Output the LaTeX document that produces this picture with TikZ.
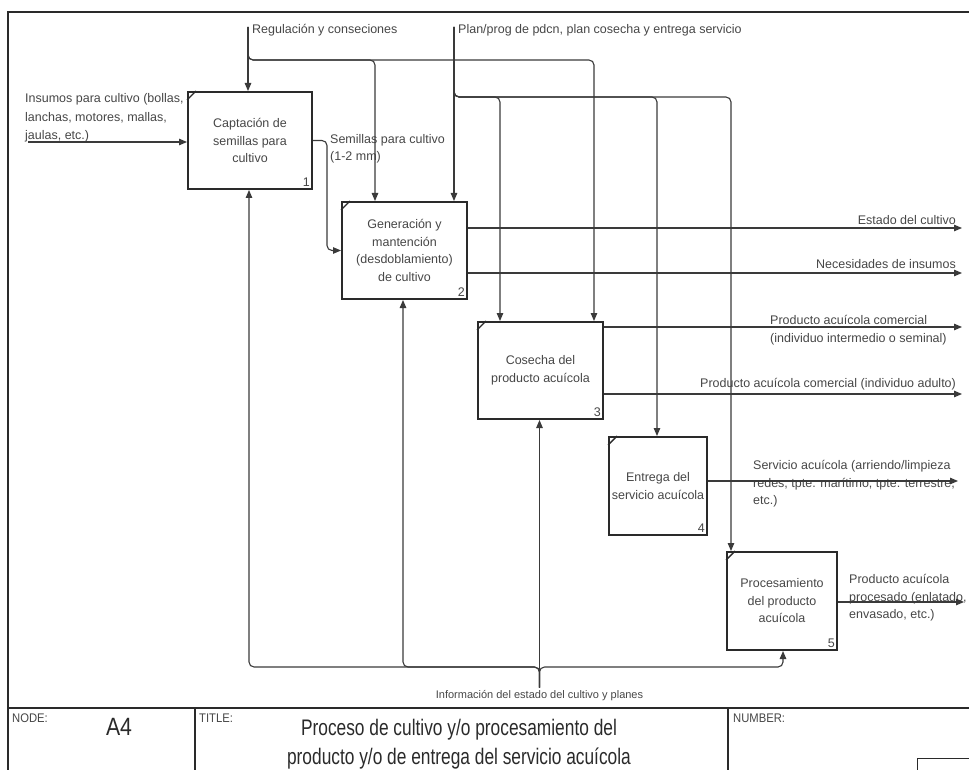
\documentclass[tikz,border=0pt]{standalone}
\usepackage{fontspec}
\setmainfont{Liberation Sans}
\usetikzlibrary{arrows.meta}
\definecolor{ink}{HTML}{2A2A2A}
\definecolor{wire}{HTML}{3A3A3A}
\definecolor{txt}{HTML}{464646}

\begin{document}
\begin{tikzpicture}[x=1pt,y=-1pt,
  font=\fontsize{12.5}{17.5}\selectfont,
  act/.style={draw=ink,line width=2pt,text=txt,align=center,inner sep=2pt},
  corner/.style={draw=ink,line width=1.4pt},
  num/.style={anchor=south east,text=txt,inner sep=3pt},
  arr/.style={draw=wire,line width=1.1pt,-{Triangle[length=8pt,width=6.5pt]}},
  rc/.style={rounded corners=5pt},
  lbl/.style={text=txt,inner sep=0pt,align=left},
  frame/.style={draw=ink,line width=1.7pt},
  small/.style={text=txt,inner sep=0pt,font=\fontsize{12.5}{14}\selectfont}]

\useasboundingbox (0,0) rectangle (969,770);

% sheet frame and title block
\draw[frame] (8,770) -- (8,12) -- (969,12);
\draw[frame] (8,708) -- (969,708);
\draw[frame] (195,708) -- (195,770);
\draw[frame] (728,708) -- (728,770);
\draw[draw=ink,line width=1pt] (917,770) -- (917,758) -- (969,758);

\node[small,anchor=north west] (nodelbl) at (12,714) {\scalebox{0.9}[1]{NODE:}};
\node[text=ink,inner sep=0pt,font=\fontsize{25}{27}\selectfont] (nodeid) at (119,727) {\scalebox{0.85}[1]{A4}};
\node[small,anchor=north west] (titlelbl) at (199,714) {\scalebox{0.9}[1]{TITLE:}};
\node[text=ink,inner sep=0pt,font=\fontsize{22.5}{30}\selectfont] (title) at (459,744)
  {\scalebox{0.77}[1]{\begin{tabular}{@{}c@{}}Proceso de cultivo y/o procesamiento del\\[-1pt]producto y/o de entrega del servicio acuícola\end{tabular}}};
\node[small,anchor=north west] (numlbl) at (733,714) {\scalebox{0.9}[1]{NUMBER:}};

% activities
\node[act,minimum width=124pt,minimum height=97pt] (b1) at (250,140.5)
  {Captación de\\semillas para\\cultivo};
\node[act,minimum width=125pt,minimum height=97pt] (b2) at (404.5,250.5)
  {Generación y\\mantención\\(desdoblamiento)\\de cultivo};
\node[act,minimum width=125pt,minimum height=97pt] (b3) at (540.5,370.5)
  {Cosecha del\\producto acuícola};
\node[act,minimum width=98pt,minimum height=98pt] (b4) at (658,486)
  {Entrega del\\servicio acuícola};
\node[act,minimum width=110pt,minimum height=98pt] (b5) at (782,601)
  {Procesamiento\\del producto\\acuícola};

\foreach \b/\n in {b1/1,b2/2,b3/3,b4/4,b5/5}{
  \draw[corner] ([yshift=-9pt]\b.north west) -- ([xshift=9pt]\b.north west);
  \node[num] at (\b.south east) {\n};
}

% labels
\node[lbl,anchor=west] (reg) at (252,30) {Regulación y conseciones};
\node[lbl,anchor=west] (plan) at (458,30) {Plan/prog de pdcn, plan cosecha y entrega servicio};
\node[lbl,anchor=west,font=\fontsize{12.5}{18.5}\selectfont] (ins) at (25,118)
  {Insumos para cultivo (bollas,\\lanchas, motores, mallas,\\jaulas, etc.)};
\node[lbl,anchor=west] (sem) at (330,149) {Semillas para cultivo\\(1-2 mm)};
\node[lbl,anchor=east] (est) at (956,220) {Estado del cultivo};
\node[lbl,anchor=east] (nec) at (956,264) {Necesidades de insumos};
\node[lbl,anchor=west] (pcom) at (770,330) {Producto acuícola comercial\\(individuo intermedio o seminal)};
\node[lbl,anchor=west] (pad) at (700,384) {Producto acuícola comercial (individuo adulto)};
\node[lbl,anchor=west] (serv) at (753,484) {Servicio acuícola (arriendo/limpieza\\redes, tpte. marítimo, tpte. terrestre,\\etc.)};
\node[lbl,anchor=west] (proc) at (849,598) {Producto acuícola\\procesado (enlatado,\\envasado, etc.)};
\node[lbl,inner ysep=3pt,font=\fontsize{11}{13}\selectfont] (info) at (539.5,696) {Información del estado del cultivo y planes};

% controls
\coordinate (regT) at (248,27);
\coordinate (j375) at (375,60);
\coordinate (j594) at (594,60);
\coordinate (planT) at (454,27);
\coordinate (j500) at (500,97);
\coordinate (j657) at (657,97);
\coordinate (j731) at (731,97);
\draw[arr] (regT) -- (b1.north -| regT);
\draw[arr,rc] (regT) |- (j375) -- (b2.north -| j375);
\draw[arr,rc] (regT) |- (j594) -- (b3.north -| j594);
\draw[arr] (planT) -- (b2.north -| planT);
\draw[arr,rc] (planT) |- (j500) -- (b3.north -| j500);
\draw[arr,rc] (planT) |- (j657) -- (b4.north -| j657);
\draw[arr,rc] (planT) |- (j731) -- (b5.north -| j731);

% input and internal flow
\coordinate (insL) at (28,142);
\draw[arr] (insL) -- (insL -| b1.west);
\coordinate (semT) at (327,250.5);
\draw[arr,rc] (b1.east) -| (semT) -- (b2.west);

% outputs
\coordinate (oEst) at (962,228);
\coordinate (oNec) at (962,273);
\coordinate (oCom) at (962,327);
\coordinate (oAd) at (962,394);
\coordinate (oSer) at (958,481);
\coordinate (oPro) at (964,602);
\draw[arr] (oEst -| b2.east) -- (oEst);
\draw[arr] (oNec -| b2.east) -- (oNec);
\draw[arr] (oCom -| b3.east) -- (oCom);
\draw[arr] (oAd -| b3.east) -- (oAd);
\draw[arr] (oSer -| b4.east) -- (oSer);
\draw[arr] (oPro -| b5.east) -- (oPro);

% feedback (mechanisms)
\coordinate (f249) at (249,667);
\coordinate (f403) at (403,667);
\coordinate (f783) at (783,667);
\draw[arr] (info.north) -- (info.north |- b3.south);
\draw[arr,rc] (info.north) |- (f249) -- (b1.south -| f249);
\draw[arr,rc] (info.north) |- (f403) -- (b2.south -| f403);
\draw[arr,rc] (info.north) |- (f783) -- (b5.south -| f783);

\end{tikzpicture}
\end{document}
